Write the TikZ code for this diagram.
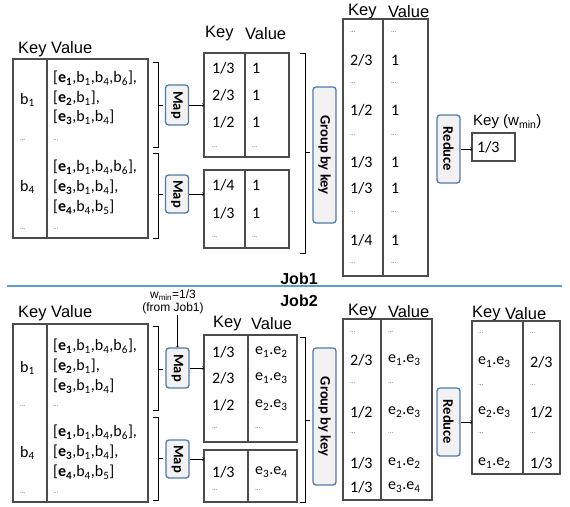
\documentclass[tikz,border=0pt]{standalone}
\usepackage{fontspec}
\setmainfont{Carlito}
\newfontfamily\arialfont{Liberation Sans}
\usepackage{xcolor}
\usetikzlibrary{calc}
\definecolor{boxblue}{RGB}{79,122,172}
\definecolor{boxfill}{RGB}{242,242,242}
\definecolor{sepblue}{RGB}{91,155,213}
\newcommand{\eb}[1]{\textbf{e\textsubscript{#1}}}
\newcommand{\bk}[1]{b\textsubscript{#1}}
\newcommand{\ep}[2]{e\textsubscript{#1}.e\textsubscript{#2}}
\newcommand{\ellip}{{\fontsize{7}{8}\selectfont\textcolor{black!60}{...}}}
\tikzset{>=to}
\tikzset{
  tbl/.style={draw=black!70, line width=1.2pt, inner sep=0pt, outer sep=0pt, anchor=north west},
  tline/.style={draw=black!70, line width=1.2pt},
  hdr/.style={anchor=west, inner sep=0pt, font=\arialfont\fontsize{16.5}{18}\selectfont},
  cell/.style={anchor=west, inner sep=0pt, font=\fontsize{16}{18}\selectfont},
  note/.style={inner sep=0pt, align=center, font=\arialfont\fontsize{12}{13.5}\selectfont},
  jobl/.style={inner sep=0pt, font=\arialfont\bfseries\fontsize{16}{18}\selectfont},
  opbox/.style={draw=boxblue, fill=boxfill, line width=1.3pt, rounded corners=3pt, rotate=-90,
    minimum height=23pt, inner sep=0pt, font=\bfseries\fontsize{14.5}{16}\selectfont},
  brk/.style={line width=0.8pt},
}

\begin{document}
\begin{tikzpicture}[x=1pt,y=-1pt]
  \useasboundingbox (0,0) rectangle (570,506);

  % Job1: input
  \node[hdr] (h1) at (18,49) {Key Value};
  \node[tbl, minimum width=135pt, minimum height=179pt] (in1) at (13,59) {};
  \draw[tline] (47,59) -- (47,238);
  \node[cell] (in1k1) at (20,100) {\bk{1}};
  \node[cell] (in1v1) at (53,78) {[\eb{1},\bk{1},\bk{4},\bk{6}],};
  \node[cell] (in1v2) at (53,98) {[\eb{2},\bk{1}],};
  \node[cell] (in1v3) at (53,117) {[\eb{3},\bk{1},\bk{4}]};
  \node[cell] (in1k2) at (20,140) {\ellip};
  \node[cell] (in1v4) at (53,140) {\ellip};
  \node[cell] (in1k3) at (20,187) {\bk{4}};
  \node[cell] (in1v5) at (53,167) {[\eb{1},\bk{1},\bk{4},\bk{6}],};
  \node[cell] (in1v6) at (53,187) {[\eb{3},\bk{1},\bk{4}],};
  \node[cell] (in1v7) at (53,207) {[\eb{4},\bk{4},\bk{5}]};
  \node[cell] (in1k4) at (20,229) {\ellip};
  \node[cell] (in1v8) at (53,229) {\ellip};

  % Job1: map
  \draw[brk] (153,62) -- (158,62) -- (158,147) -- (153,147) (158,105) -- (163,105);
  \draw[brk] (153,153) -- (158,153) -- (158,238) -- (153,238) (158,194) -- (163,194);
  \node[opbox, minimum width=40pt] (map1) at (177,105) {Map};
  \node[opbox, minimum width=38pt] (map2) at (177,194) {Map};

  \node[hdr] (h2k) at (205,34) {Key};
  \node[hdr] (h2v) at (245,34) {Value};
  \node[tbl, minimum width=85pt, minimum height=104pt] (mid1) at (204,53) {};
  \draw[tline] (245,53) -- (245,157);
  \node[cell] (m1k1) at (212,68) {1/3};  \node[cell] (m1v1) at (252,68) {1};
  \node[cell] (m1k2) at (212,95) {2/3};  \node[cell] (m1v2) at (252,95) {1};
  \node[cell] (m1k3) at (212,122) {1/2}; \node[cell] (m1v3) at (252,122) {1};
  \node[cell] (m1k4) at (212,147) {\ellip}; \node[cell] (m1v4) at (252,147) {\ellip};
  \node[tbl, minimum width=85pt, minimum height=78pt] (mid2) at (204,170) {};
  \draw[tline] (245,170) -- (245,248);
  \node[cell] (m2k1) at (212,185) {1/4}; \node[cell] (m2v1) at (252,185) {1};
  \node[cell] (m2k2) at (212,213) {1/3}; \node[cell] (m2v2) at (252,213) {1};
  \node[cell] (m2k3) at (212,237) {\ellip}; \node[cell] (m2v3) at (252,237) {\ellip};
  \draw[->] (map1.north) -- (map1.north -| mid1.west);
  \draw[->] (map2.north) -- (map2.north -| mid2.west);

  % Job1: group and reduce
  \draw[brk] (300,53) -- (305,53) -- (305,253) -- (300,253) (305,152) -- (310,152);
  \node[opbox, minimum width=136pt] (grp1) at (324.5,155) {Group by key};

  \node[hdr] (h3k) at (348,12) {Key};
  \node[hdr] (h3v) at (388,12) {Value};
  \node[tbl, minimum width=85pt, minimum height=257pt] (out1) at (343,19) {};
  \draw[tline] (383,19) -- (383,276);
  \node[cell] (o1k1) at (350,32) {\ellip};  \node[cell] (o1v1) at (391,32) {\ellip};
  \node[cell] (o1k2) at (350,60) {2/3};     \node[cell] (o1v2) at (391,60) {1};
  \node[cell] (o1k3) at (350,83) {\ellip};  \node[cell] (o1v3) at (391,83) {\ellip};
  \node[cell] (o1k4) at (350,110) {1/2};    \node[cell] (o1v4) at (391,110) {1};
  \node[cell] (o1k5) at (350,135) {\ellip}; \node[cell] (o1v5) at (391,135) {\ellip};
  \node[cell] (o1k6) at (350,162) {1/3};    \node[cell] (o1v6) at (391,162) {1};
  \node[cell] (o1k7) at (350,188) {1/3};    \node[cell] (o1v7) at (391,188) {1};
  \node[cell] (o1k8) at (350,212) {\ellip}; \node[cell] (o1v8) at (391,212) {\ellip};
  \node[cell] (o1k9) at (350,240) {1/4};    \node[cell] (o1v9) at (391,240) {1};
  \node[cell] (o1k10) at (350,263) {\ellip}; \node[cell] (o1v10) at (391,263) {\ellip};

  \node[opbox, minimum width=68pt] (red1) at (448.5,149) {Reduce};
  \node[hdr, font=\arialfont\fontsize{15}{17}\selectfont] (h4) at (473,122) {Key (w\textsubscript{min})};
  \node[tbl, minimum width=43pt, minimum height=28pt] (res) at (472,133) {};
  \node[cell] (resk) at (477,147) {1/3};
  \draw[->] (red1.north) -- (red1.north -| res.west);

  % Separator
  \node[jobl] (job1) at (299,279) {Job1};
  \draw[sepblue, line width=1.2pt] (7,286) -- (562,286);
  \node[jobl] (job2) at (299,301) {Job2};

  % Job2: input
  \node[hdr] (h5) at (18,313) {Key Value};
  \node[tbl, minimum width=135pt, minimum height=178pt] (in2) at (13,324) {};
  \draw[tline] (47,324) -- (47,502);
  \node[cell] (in2k1) at (20,368) {\bk{1}};
  \node[cell] (in2v1) at (53,346) {[\eb{1},\bk{1},\bk{4},\bk{6}],};
  \node[cell] (in2v2) at (53,366) {[\eb{2},\bk{1}],};
  \node[cell] (in2v3) at (53,386) {[\eb{3},\bk{1},\bk{4}]};
  \node[cell] (in2k2) at (20,406) {\ellip};
  \node[cell] (in2v4) at (53,406) {\ellip};
  \node[cell] (in2k3) at (20,453) {\bk{4}};
  \node[cell] (in2v5) at (53,432) {[\eb{1},\bk{1},\bk{4},\bk{6}],};
  \node[cell] (in2v6) at (53,452) {[\eb{3},\bk{1},\bk{4}],};
  \node[cell] (in2v7) at (53,472) {[\eb{4},\bk{4},\bk{5}]};
  \node[cell] (in2k4) at (20,493) {\ellip};
  \node[cell] (in2v8) at (53,493) {\ellip};

  % Job2: map
  \draw[brk] (153,326) -- (158,326) -- (158,410) -- (153,410) (158,369) -- (163,369);
  \draw[brk] (153,417) -- (158,417) -- (158,500) -- (153,500) (158,458) -- (163,458);
  \node[opbox, minimum width=40pt] (map3) at (177.5,368) {Map};
  \node[opbox, minimum width=38pt] (map4) at (177.5,459) {Map};
  \node[note] (wmin) at (173,302) {w\textsubscript{min}=1/3\\(from Job1)};
  \draw[->] (wmin.south -| map3) -- (map3.west);

  \node[hdr] (h6k) at (213,324) {Key};
  \node[hdr] (h6v) at (251,324) {Value};
  \node[tbl, minimum width=93pt, minimum height=107pt] (mid3) at (204,335) {};
  \draw[tline] (248,335) -- (248,442);
  \node[cell] (m3k1) at (212,352) {1/3};    \node[cell] (m3v1) at (255,352) {\ep{1}{2}};
  \node[cell] (m3k2) at (212,378) {2/3};    \node[cell] (m3v2) at (255,378) {\ep{1}{3}};
  \node[cell] (m3k3) at (212,405) {1/2};    \node[cell] (m3v3) at (255,405) {\ep{2}{3}};
  \node[cell] (m3k4) at (212,428) {\ellip}; \node[cell] (m3v4) at (255,428) {\ellip};
  \node[tbl, minimum width=93pt, minimum height=52pt] (mid4) at (204,450) {};
  \draw[tline] (248,450) -- (248,502);
  \node[cell] (m4k1) at (212,472) {1/3};    \node[cell] (m4v1) at (255,472) {\ep{3}{4}};
  \node[cell] (m4k2) at (212,490) {\ellip}; \node[cell] (m4v2) at (255,490) {\ellip};
  \draw[->] (map3.north) -- (map3.north -| mid3.west);
  \draw[->] (map4.north) -- (map4.north -| mid4.west);

  % Job2: group and reduce
  \draw[brk] (300,337) -- (305,337) -- (305,502) -- (300,502) (305,420) -- (310,420);
  \node[opbox, minimum width=137pt] (grp2) at (324.5,416.5) {Group by key};

  \node[hdr] (h7k) at (348,312) {Key};
  \node[hdr] (h7v) at (388,312) {Value};
  \node[tbl, minimum width=89pt, minimum height=181pt] (out2) at (343,319) {};
  \draw[tline] (381,319) -- (381,500);
  \node[cell] (o2k1) at (350,332) {\ellip}; \node[cell] (o2v1) at (388,332) {\ellip};
  \node[cell] (o2k2) at (350,360) {2/3};    \node[cell] (o2v2) at (388,360) {\ep{1}{3}};
  \node[cell] (o2k3) at (350,383) {\ellip}; \node[cell] (o2v3) at (388,383) {\ellip};
  \node[cell] (o2k4) at (350,412) {1/2};    \node[cell] (o2v4) at (388,412) {\ep{2}{3}};
  \node[cell] (o2k5) at (350,433) {\ellip}; \node[cell] (o2v5) at (388,433) {\ellip};
  \node[cell] (o2k6) at (350,463) {1/3};    \node[cell] (o2v6) at (388,463) {\ep{1}{2}};
  \node[cell] (o2k7) at (350,487) {1/3};    \node[cell] (o2v7) at (388,487) {\ep{3}{4}};

  \node[opbox, minimum width=68pt] (red2) at (448.5,422) {Reduce};
  \node[hdr] (h8k) at (472,314) {Key};
  \node[hdr] (h8v) at (505,314) {Value};
  \node[tbl, minimum width=88pt, minimum height=153pt] (fin) at (472,321) {};
  \draw[tline] (523,321) -- (523,474);
  \node[cell] (fk1) at (478,333) {\ellip};    \node[cell] (fv1) at (530,333) {\ellip};
  \node[cell] (fk2) at (478,362) {\ep{1}{3}}; \node[cell] (fv2) at (530,362) {2/3};
  \node[cell] (fk3) at (478,385) {\ellip};    \node[cell] (fv3) at (530,385) {\ellip};
  \node[cell] (fk4) at (478,412) {\ep{2}{3}}; \node[cell] (fv4) at (530,412) {1/2};
  \node[cell] (fk5) at (478,433) {\ellip};    \node[cell] (fv5) at (530,433) {\ellip};
  \node[cell] (fk6) at (478,463) {\ep{1}{2}}; \node[cell] (fv6) at (530,463) {1/3};
  \draw[->] (red2.north) -- (red2.north -| fin.west);
\end{tikzpicture}
\end{document}
